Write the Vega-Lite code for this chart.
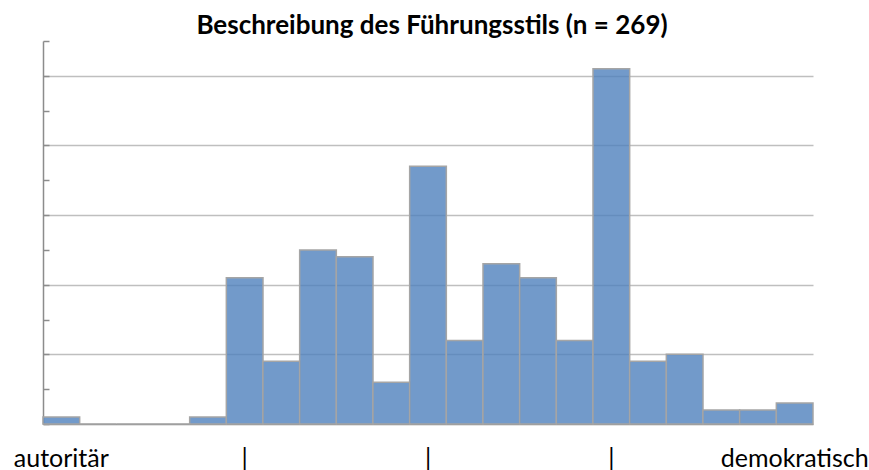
{
  "$schema": "https://vega.github.io/schema/vega-lite/v6.json",
  "width": 770,
  "height": 383,
  "autosize": {"type": "none"},
  "padding": {"left": 43, "top": 41, "right": 56, "bottom": 46},
  "background": "white",
  "config": {"view": {"stroke": null}, "font": "Lato"},
  "title": {
    "text": "Beschreibung des Führungsstils (n = 269)",
    "font": "Lato",
    "fontSize": 26,
    "fontWeight": "bold",
    "color": "black",
    "anchor": "middle",
    "offset": 1,
    "dx": 4
  },
  "data": {
    "values": [
      {"i": 1, "n": 1}, {"i": 2, "n": 0}, {"i": 3, "n": 0}, {"i": 4, "n": 0},
      {"i": 5, "n": 1}, {"i": 6, "n": 21}, {"i": 7, "n": 9}, {"i": 8, "n": 25},
      {"i": 9, "n": 24}, {"i": 10, "n": 6}, {"i": 11, "n": 37}, {"i": 12, "n": 12},
      {"i": 13, "n": 23}, {"i": 14, "n": 21}, {"i": 15, "n": 12}, {"i": 16, "n": 51},
      {"i": 17, "n": 9}, {"i": 18, "n": 10}, {"i": 19, "n": 2}, {"i": 20, "n": 2},
      {"i": 21, "n": 3}
    ]
  },
  "mark": {
    "type": "bar",
    "fill": "#4F81BD",
    "fillOpacity": 0.8,
    "stroke": "#a5a5a5",
    "strokeWidth": 1.5
  },
  "encoding": {
    "x": {
      "field": "i",
      "type": "ordinal",
      "title": null,
      "scale": {"paddingInner": 0, "paddingOuter": 0},
      "axis": {
        "labelExpr": "datum.value == 1 ? 'autoritär' : (datum.value == 6 || datum.value == 11 || datum.value == 16) ? '|' : datum.value == 21 ? 'demokratisch' : ''",
        "labelAngle": 0,
        "labelFont": "Lato",
        "labelFontSize": 25,
        "labelColor": "black",
        "labelBaseline": "alphabetic",
        "labelPadding": 42,
        "labelOverlap": false,
        "labelBound": false,
        "labelFlush": false,
        "ticks": false,
        "tickSize": 0,
        "domainColor": "#8c8c8c",
        "domainWidth": 1.5,
        "grid": false
      }
    },
    "y": {
      "field": "n",
      "type": "quantitative",
      "title": null,
      "scale": {"domain": [0, 55], "nice": false},
      "axis": {
        "values": [0, 5, 10, 15, 20, 25, 30, 35, 40, 45, 50, 55],
        "labels": false,
        "tickSize": -6,
        "tickColor": "#8c8c8c",
        "tickWidth": 1.5,
        "domainColor": "#8c8c8c",
        "domainWidth": 1.5,
        "grid": true,
        "gridColor": "#bfbfbf",
        "gridWidth": 1.5,
        "gridOpacity": {"condition": {"test": "datum.value % 10 === 0 && datum.value > 0", "value": 1}, "value": 0}
      }
    }
  }
}
